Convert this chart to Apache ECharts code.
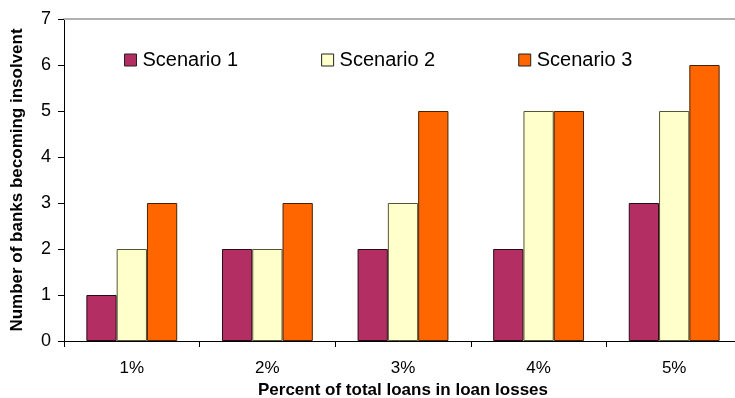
<!DOCTYPE html>
<html>
<head>
<meta charset="utf-8">
<script src="https://cdn.jsdelivr.net/npm/echarts@6/dist/echarts.min.js"></script>
<style>
  html, body { margin: 0; padding: 0; background: #fff; }
  #chart { width: 735px; height: 398px; }
</style>
</head>
<body>
<div id="chart"></div>
<script>
// Loss levels on the x axis
const categories = ['1%', '2%', '3%', '4%', '5%'];
// Number of insolvent banks per scenario
const scenario1 = [1, 2, 2, 2, 3];
const scenario2 = [2, 2, 3, 5, 5];
const scenario3 = [3, 3, 5, 5, 6];
const seriesNames = ['Scenario 1', 'Scenario 2', 'Scenario 3'];
const yTicks = [0, 1, 2, 3, 4, 5, 6, 7];

const colors = ['#B22E63', '#FFFFCC', '#FF6600'];
const borders = ['#2a0a18', '#555533', '#4a2200'];
const font = 'Arial, "Liberation Sans", sans-serif';

const chart = echarts.init(document.getElementById('chart'), null, { renderer: 'canvas' });

function barSeries(name, data, i) {
  return {
    name: name,
    type: 'bar',
    data: data,
    barGap: '0%',
    barCategoryGap: '33%',
    itemStyle: { color: colors[i], borderColor: borders[i], borderWidth: 1 },
    emphasis: { disabled: true }
  };
}

chart.setOption({
  animation: false,
  textStyle: { fontFamily: font },
  grid: { left: 64, top: 19, bottom: 57, right: -7, outerBoundsMode: 'none', containLabel: false },
  legend: {
    data: seriesNames.map((n, i) => ({ name: n, itemStyle: { color: colors[i], borderColor: '#222', borderWidth: 1 } })),
    left: 124,
    top: 50,
    padding: 0,
    itemWidth: 12,
    itemHeight: 12,
    itemGap: 83,
    icon: 'rect',
    textStyle: { fontSize: 20, color: '#000', fontFamily: font, padding: [0, 0, 0, 1] }
  },
  xAxis: [
    {
      type: 'category',
      data: categories,
      name: 'Percent of total loans in loan losses',
      nameLocation: 'middle',
      nameGap: 38,
      nameTextStyle: { fontSize: 17, fontWeight: 'bold', color: '#000' },
      axisLine: { lineStyle: { color: '#000', width: 1 } },
      axisTick: { show: true, length: 6, lineStyle: { color: '#000' } },
      axisLabel: { fontSize: 17, color: '#000', margin: 19 }
    },
    {
      type: 'category',
      data: categories,
      position: 'top',
      axisLine: { lineStyle: { color: '#b0b0b0', width: 2 } },
      axisTick: { show: false },
      axisLabel: { show: false }
    }
  ],
  yAxis: {
    type: 'value',
    min: 0,
    max: yTicks[yTicks.length - 1],
    interval: 1,
    name: 'Number of banks becoming insolvent',
    nameLocation: 'middle',
    nameGap: 38,
    nameTextStyle: { fontSize: 17, fontWeight: 'bold', color: '#000' },
    axisLine: { show: true, lineStyle: { color: '#000', width: 1 } },
    axisTick: { show: true, length: 6, lineStyle: { color: '#000' } },
    axisLabel: { fontSize: 18, color: '#000', margin: 13 },
    splitLine: { show: false }
  },
  series: [
    barSeries(seriesNames[0], scenario1, 0),
    barSeries(seriesNames[1], scenario2, 1),
    barSeries(seriesNames[2], scenario3, 2)
  ]
});
</script>
</body>
</html>
